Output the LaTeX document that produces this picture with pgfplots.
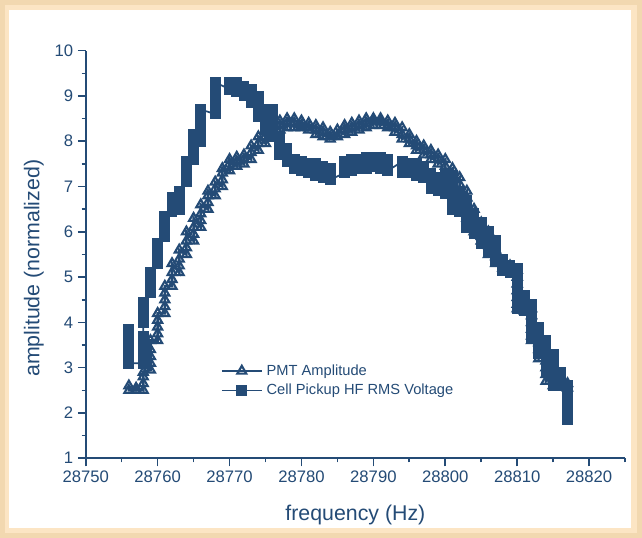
\documentclass[border=0pt]{standalone}
\usepackage{fontspec}
\setmainfont{Liberation Sans}
\usepackage{pgfplots}
\pgfplotsset{compat=1.18}
\definecolor{ink}{RGB}{36,75,118}
\definecolor{wheatA}{RGB}{242,216,176}
\definecolor{wheatB}{RGB}{252,229,196}
\begin{document}
\begin{tikzpicture}
% page border and white panel
\fill[wheatA] (0pt,0pt) rectangle (481.5pt,403.5pt);
\fill[wheatB] (3.75pt,3.75pt) rectangle (477.75pt,399.75pt);
\fill[white] (6.75pt,7.5pt) rectangle (473.25pt,396pt);
\begin{axis}[
  at={(64.3pt,59.8pt)}, anchor=south west,
  scale only axis, width=404.5pt, height=305.7pt,
  xmin=28750, xmax=28825, ymin=1, ymax=10,
  axis lines=left, axis line style={-, line width=1.5pt, ink},
  xtick={28750,28760,...,28820}, ytick={1,...,10},
  minor xtick={28755,28765,...,28825}, minor ytick={1.5,2.5,...,9.5},
  tick align=outside, major tick length=6pt, minor tick length=3pt,
  tick style={line width=1.2pt, ink},
  scaled x ticks=false,
  xticklabel style={/pgf/number format/set thousands separator={}},
  /pgf/number format/assume math mode=true,
  tick label style={font=\fontsize{12.5}{14}\selectfont, text=ink},
  xlabel={frequency (Hz)}, ylabel={amplitude (normalized)},
  label style={font=\fontsize{16}{18}\selectfont, text=ink},
  xlabel style={at={(axis description cs:0.5,-0.139)}, anchor=center},
  ylabel style={at={(axis description cs:-0.096,0.466)}, anchor=center},
  legend style={at={(axis cs:28768.7,2.71)}, anchor=west, draw=none, fill=none,
    font=\fontsize{11}{12}\selectfont, text=ink, inner sep=0pt, row sep=0pt,
    nodes={inner sep=2.6pt}},
  legend cell align=left,
  legend image code/.code={\draw[mark repeat=2,mark phase=2] plot coordinates {(0pt,0pt)(15pt,0pt)(30pt,0pt)};},
]
% PMT Amplitude (open triangles)
\addplot[ink, line width=2pt, mark=triangle, mark size=3.9pt, mark options={solid, line width=1.6pt}] coordinates {
(28756,2.6)(28756,2.5)
(28757,2.5)(28757,2.55)
(28758,2.5)(28758,2.65)(28758,2.8)(28758,2.9)
(28759,2.95)(28759,3.1)(28759,3.25)(28759,3.4)(28759,3.6)
(28760,3.6)(28760,3.75)(28760,3.9)(28760,4.05)(28760,4.2)
(28761,4.2)(28761,4.35)(28761,4.5)(28761,4.65)(28761,4.8)
(28762,4.8)(28762,4.95)(28762,5.1)(28762,5.3)
(28763,5.1)(28763,5.25)(28763,5.4)(28763,5.6)
(28764,5.5)(28764,5.65)(28764,5.8)(28764,6.0)
(28765,5.8)(28765,5.95)(28765,6.1)(28765,6.3)
(28766,6.1)(28766,6.25)(28766,6.4)(28766,6.6)
(28767,6.5)(28767,6.65)(28767,6.8)(28767,6.9)
(28768,6.8)(28768,6.95)(28768,7.1)
(28769,7.0)(28769,7.15)(28769,7.3)(28769,7.4)
(28770,7.35)(28770,7.5)(28770,7.6)
(28771,7.45)(28771,7.55)(28771,7.65)
(28772,7.5)(28772,7.6)(28772,7.7)
(28773,7.6)(28773,7.75)(28773,7.9)
(28774,7.8)(28774,7.95)(28774,8.1)
(28775,7.95)(28775,8.1)(28775,8.25)
(28776,8.1)(28776,8.2)(28776,8.35)
(28777,8.25)(28777,8.35)(28777,8.45)
(28778,8.3)(28778,8.4)(28778,8.5)
(28779,8.5)(28779,8.4)(28779,8.3)
(28780,8.45)(28780,8.35)(28780,8.3)
(28781,8.4)(28781,8.3)(28781,8.25)
(28782,8.35)(28782,8.25)(28782,8.15)
(28783,8.3)(28783,8.2)(28783,8.1)
(28784,8.2)(28784,8.1)(28784,8.05)
(28785,8.1)(28785,8.25)
(28786,8.15)(28786,8.25)(28786,8.35)
(28787,8.2)(28787,8.3)(28787,8.4)
(28788,8.25)(28788,8.35)(28788,8.45)
(28789,8.3)(28789,8.4)(28789,8.5)
(28790,8.35)(28790,8.45)(28790,8.5)
(28791,8.5)(28791,8.45)(28791,8.35)
(28792,8.45)(28792,8.35)(28792,8.3)
(28793,8.4)(28793,8.3)(28793,8.2)
(28794,8.3)(28794,8.15)(28794,8.05)
(28795,8.15)(28795,8.05)(28795,7.95)
(28796,8.0)(28796,7.9)(28796,7.8)
(28797,7.9)(28797,7.8)(28797,7.7)
(28798,7.8)(28798,7.7)(28798,7.6)
(28799,7.7)(28799,7.6)(28799,7.5)
(28800,7.6)(28800,7.45)(28800,7.3)
(28801,7.4)(28801,7.25)(28801,7.1)(28801,7.0)
(28802,7.2)(28802,7.05)(28802,6.9)(28802,6.7)
(28803,6.9)(28803,6.75)(28803,6.6)(28803,6.45)(28803,6.3)
(28804,6.5)(28804,6.35)(28804,6.2)(28804,6.0)
(28805,6.2)(28805,6.05)(28805,5.9)(28805,5.8)
(28806,6.0)(28806,5.85)(28806,5.7)(28806,5.5)
(28807,5.6)(28807,5.45)(28807,5.3)
(28808,5.35)(28808,5.2)
(28809,5.25)(28809,5.15)
(28810,5.15)(28810,5.0)(28810,4.85)(28810,4.7)(28810,4.55)(28810,4.4)(28810,4.3)
(28811,4.5)(28811,4.35)(28811,4.25)
(28812,4.3)(28812,4.15)(28812,4.0)(28812,3.85)(28812,3.7)(28812,3.6)
(28813,3.7)(28813,3.55)(28813,3.4)(28813,3.2)
(28814,3.3)(28814,3.15)(28814,3.0)(28814,2.85)(28814,2.7)
(28815,2.9)(28815,2.75)(28815,2.6)
(28816,2.8)(28816,2.7)(28816,2.6)
(28817,2.65)(28817,2.55)
};
% Cell Pickup HF RMS Voltage (filled squares)
\addplot[ink, line width=1.3pt, mark=square*, mark size=3.4pt, mark options={solid}] coordinates {
(28756,3.85)(28756,3.7)(28756,3.55)(28756,3.4)(28756,3.25)(28756,3.1)
(28758,3.1)(28758,3.25)(28758,3.4)(28758,3.55)(28758,3.7)
(28758,4.0)(28758,4.15)(28758,4.3)(28758,4.45)
(28759,4.65)(28759,4.8)(28759,4.95)(28759,5.1)
(28760,5.3)(28760,5.45)(28760,5.6)(28760,5.75)
(28761,5.9)(28761,6.05)(28761,6.2)(28761,6.35)
(28762,6.45)(28762,6.6)(28762,6.75)
(28763,6.5)(28763,6.65)(28763,6.8)(28763,6.9)
(28764,7.1)(28764,7.25)(28764,7.4)(28764,7.55)
(28765,7.6)(28765,7.75)(28765,7.9)(28765,8.05)(28765,8.15)
(28766,8.0)(28766,8.15)(28766,8.3)(28766,8.45)(28766,8.6)(28766,8.7)
(28768,8.6)(28768,8.75)(28768,8.9)(28768,9.05)(28768,9.2)(28768,9.3)
(28770,9.15)(28770,9.3)
(28771,9.3)(28771,9.15)(28771,9.1)
(28772,9.2)(28772,9.05)(28772,9.0)
(28773,9.15)(28773,9.0)(28773,8.85)
(28774,9.0)(28774,8.85)(28774,8.7)(28774,8.55)
(28775,8.7)(28775,8.55)(28775,8.4)(28775,8.25)
(28776,8.7)(28776,8.5)(28776,8.3)(28776,8.1)
(28777,8.1)(28777,7.95)(28777,7.8)(28777,7.7)
(28778,7.85)(28778,7.7)(28778,7.55)
(28779,7.6)(28779,7.5)(28779,7.4)
(28780,7.55)(28780,7.45)(28780,7.35)
(28781,7.5)(28781,7.4)(28781,7.3)
(28782,7.5)(28782,7.4)(28782,7.3)(28782,7.25)
(28783,7.45)(28783,7.35)(28783,7.25)(28783,7.2)
(28784,7.4)(28784,7.3)(28784,7.2)(28784,7.15)
(28786,7.3)(28786,7.4)(28786,7.55)
(28787,7.35)(28787,7.45)(28787,7.6)
(28788,7.4)(28788,7.5)(28788,7.6)
(28789,7.4)(28789,7.55)(28789,7.65)
(28790,7.45)(28790,7.55)(28790,7.65)
(28791,7.65)(28791,7.55)(28791,7.4)
(28792,7.6)(28792,7.45)(28792,7.35)
(28794,7.55)(28794,7.45)(28794,7.3)
(28795,7.5)(28795,7.4)(28795,7.3)
(28796,7.5)(28796,7.35)(28796,7.25)
(28797,7.45)(28797,7.3)(28797,7.2)
(28798,7.3)(28798,7.15)(28798,6.95)
(28799,7.2)(28799,7.05)(28799,6.9)
(28800,7.25)(28800,7.1)(28800,6.95)(28800,6.85)
(28801,7.2)(28801,7.05)(28801,6.9)(28801,6.75)(28801,6.6)(28801,6.5)
(28802,6.9)(28802,6.75)(28802,6.6)(28802,6.45)
(28803,6.7)(28803,6.55)(28803,6.4)(28803,6.25)(28803,6.1)
(28804,6.4)(28804,6.25)(28804,6.1)(28804,5.95)
(28805,6.2)(28805,6.05)(28805,5.9)(28805,5.75)
(28806,6.0)(28806,5.85)(28806,5.7)(28806,5.55)
(28807,5.8)(28807,5.65)(28807,5.5)(28807,5.35)
(28808,5.4)(28808,5.25)(28808,5.15)
(28809,5.25)(28809,5.1)
(28810,5.2)(28810,5.05)(28810,4.9)(28810,4.75)(28810,4.6)(28810,4.45)(28810,4.3)
(28811,4.6)(28811,4.45)(28811,4.25)
(28812,4.4)(28812,4.25)(28812,4.1)(28812,3.95)(28812,3.8)(28812,3.65)
(28813,3.9)(28813,3.75)(28813,3.6)(28813,3.45)(28813,3.3)
(28814,3.6)(28814,3.45)(28814,3.3)(28814,3.15)(28814,3.0)(28814,2.9)
(28815,3.3)(28815,3.15)(28815,3.0)(28815,2.85)(28815,2.7)(28815,2.6)
(28816,2.9)(28816,2.75)(28816,2.6)
(28817,2.6)(28817,2.45)(28817,2.3)(28817,2.15)(28817,2.0)(28817,1.85)
};
\legend{PMT Amplitude, Cell Pickup HF RMS Voltage}
\end{axis}
\end{tikzpicture}
\end{document}
